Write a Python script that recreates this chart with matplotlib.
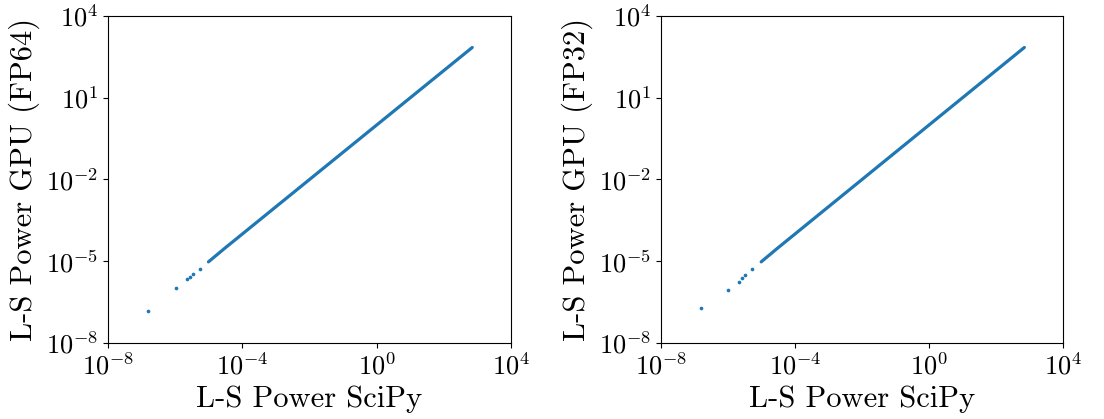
import numpy as np
import matplotlib
matplotlib.use('Agg')
import matplotlib.pyplot as plt

plt.rcParams['font.family'] = 'serif'
plt.rcParams['font.serif'] = ['cmr10']
plt.rcParams['mathtext.fontset'] = 'cm'
plt.rcParams['axes.formatter.use_mathtext'] = True

# sparse low-power points (SciPy power, GPU power)
fp64_sparse_x = [1.6e-7, 1.07e-6, 2.3e-6, 2.8e-6, 3.4e-6, 5.4e-6]
fp64_sparse_y = [1.5e-7, 1.02e-6, 2.2e-6, 2.7e-6, 3.3e-6, 5.3e-6]
fp32_sparse_x = [1.55e-7, 1.0e-6, 2.2e-6, 2.7e-6, 3.2e-6, 5.3e-6]
fp32_sparse_y = [2.0e-7, 0.9e-6, 1.8e-6, 2.4e-6, 3.0e-6, 5.2e-6]

# dense part of the cloud, lies on y = x
dense_x = [9.8e-6, 3e-5, 1e-4, 3e-4, 1e-3, 3e-3, 1e-2, 3e-2, 0.1, 0.3, 1.0,
           3.0, 10.0, 30.0, 100.0, 300.0, 700.0]
dense_y = [9.5e-6, 3e-5, 1e-4, 3e-4, 1e-3, 3e-3, 1e-2, 3e-2, 0.1, 0.3, 1.0,
           3.0, 10.0, 30.0, 100.0, 300.0, 700.0]

ylabels = ['L-S Power GPU (FP64)', 'L-S Power GPU (FP32)']
sparse = [(fp64_sparse_x, fp64_sparse_y), (fp32_sparse_x, fp32_sparse_y)]

fig = plt.figure(figsize=(11.04, 4.19), dpi=100)
ax1 = fig.add_axes([0.0978, 0.1814, 0.3651, 0.7804])
ax2 = fig.add_axes([0.5987, 0.1814, 0.3642, 0.7804])

c = '#1f77b4'
for ax, lab, (sx, sy) in zip([ax1, ax2], ylabels, sparse):
    ax.plot(dense_x, dense_y, color=c, lw=2.3, solid_capstyle='round')
    ax.scatter(sx, sy, s=7, color=c, linewidths=0)
    ax.set_xscale('log')
    ax.set_yscale('log')
    ax.set_xlim(1e-8, 1e4)
    ax.set_ylim(1e-8, 1e4)
    ax.set_xticks([1e-8, 1e-4, 1e0, 1e4])
    ax.set_yticks([1e-8, 1e-5, 1e-2, 1e1, 1e4])
    ax.minorticks_off()
    ax.tick_params(labelsize=19)
    ax.set_xlabel('L-S Power SciPy', fontsize=22)
    ax.set_ylabel(lab, fontsize=22)

fig.savefig('out.png', dpi=100)
